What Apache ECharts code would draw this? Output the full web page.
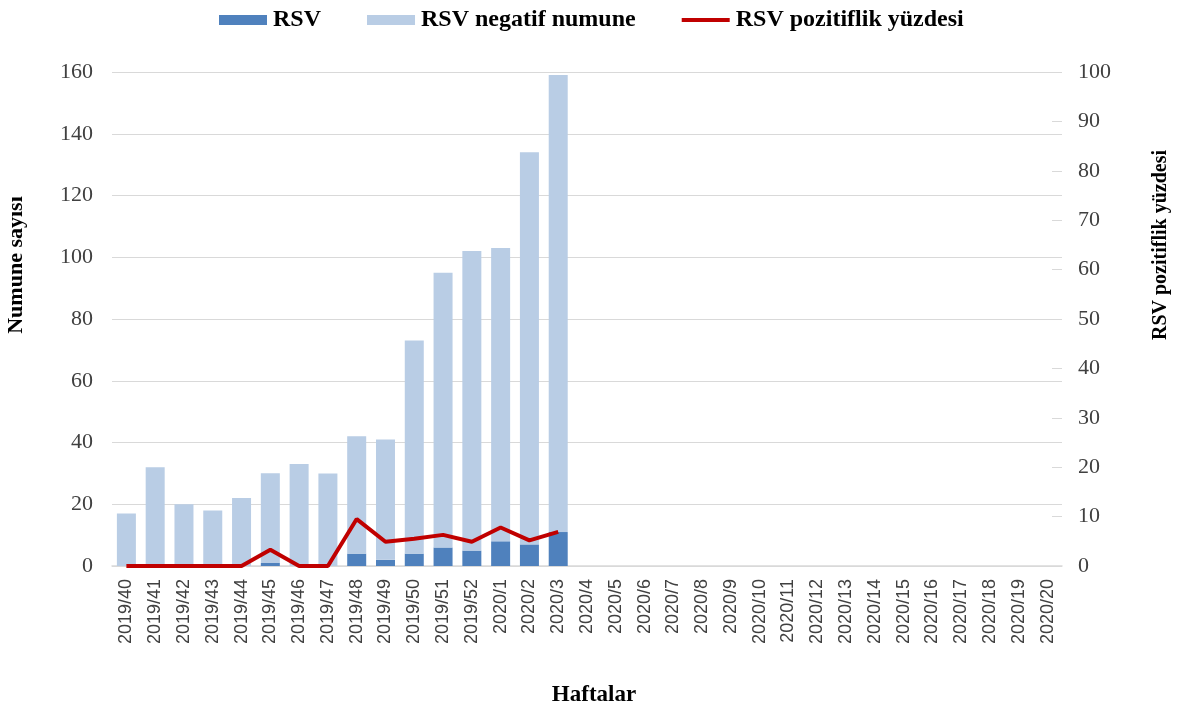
<!DOCTYPE html>
<html>
<head>
<meta charset="utf-8">
<script src="https://cdn.jsdelivr.net/npm/echarts@6/dist/echarts.min.js"></script>
<style>html,body{margin:0;padding:0;background:#fff}#c{width:1182px;height:708px}</style>
</head>
<body>
<div id="c"></div>
<script>
var weeks = ['2019/40','2019/41','2019/42','2019/43','2019/44','2019/45','2019/46','2019/47','2019/48','2019/49','2019/50','2019/51','2019/52',
  '2020/1','2020/2','2020/3','2020/4','2020/5','2020/6','2020/7','2020/8','2020/9','2020/10','2020/11','2020/12','2020/13','2020/14','2020/15','2020/16','2020/17','2020/18','2020/19','2020/20'];
var rsvPositive = [0,0,0,0,0,1,0,0,4,2,4,6,5,8,7,11];
var rsvNegative = [17,32,20,18,22,29,33,30,38,39,69,89,97,95,127,148];
var positivityPct = [0,0,0,0,0,3.3,0,0,9.5,4.9,5.5,6.3,4.9,7.8,5.2,6.9];
var leftTicks = [0,160,20];
var rightTicks = [0,100,10];

var serif = 'Liberation Serif';
var chart = echarts.init(document.getElementById('c'));
chart.setOption({
  animation: false,
  legend: {
    top: 3, left: 214,
    itemWidth: 48, itemHeight: 10, itemGap: 46,
    textStyle: {fontFamily: serif, fontWeight: 'bold', fontSize: 24, color: '#000', padding: [0,0,0,1]},
    data: [
      {name:'RSV', icon:'rect'},
      {name:'RSV negatif numune', icon:'rect'},
      {name:'RSV pozitiflik yüzdesi', icon:'path://M0,0 L48,0 L48,4 L0,4 Z', itemStyle: {color: '#c00000'}}
    ]
  },
  grid: {left: 112, right: 120, top: 72, bottom: 142},
  xAxis: {
    type: 'category', data: weeks,
    axisLine: {lineStyle: {color: '#d9d9d9', width: 1.5}},
    axisTick: {show: false},
    axisLabel: {rotate: 90, fontFamily: 'Liberation Sans', fontSize: 18, color: '#404040', interval: 0, margin: 13}
  },
  yAxis: [{
    type: 'value', min: leftTicks[0], max: leftTicks[1], interval: leftTicks[2],
    axisLine: {show: false}, axisTick: {show: false},
    splitLine: {lineStyle: {color: '#d9d9d9', width: 1}},
    axisLabel: {fontFamily: serif, fontSize: 22, color: '#404040', margin: 19}
  }, {
    type: 'value', min: rightTicks[0], max: rightTicks[1], interval: rightTicks[2],
    axisLine: {show: false},
    axisTick: {show: true, inside: true, length: 10, lineStyle: {color: '#d9d9d9'}},
    splitLine: {show: false},
    axisLabel: {fontFamily: serif, fontSize: 22, color: '#404040', margin: 16}
  }],
  graphic: [
    {type: 'text', rotation: Math.PI/2, x: 16, y: 265, style: {text: 'Numune sayısı', font: 'bold 22px "Liberation Serif"', fill: '#000', textAlign: 'center', textVerticalAlign: 'middle'}},
    {type: 'text', rotation: Math.PI/2, x: 1161, y: 245, style: {text: 'RSV pozitiflik yüzdesi', font: 'bold 20px "Liberation Serif"', fill: '#000', textAlign: 'center', textVerticalAlign: 'middle'}},
    {type: 'text', x: 594, y: 695, style: {text: 'Haftalar', font: 'bold 23px "Liberation Serif"', fill: '#000', textAlign: 'center', textVerticalAlign: 'middle'}}
  ],
  series: [{
    name: 'RSV', type: 'bar', stack: 'n', data: rsvPositive, barCategoryGap: '34%',
    itemStyle: {color: '#4f81bd'}
  }, {
    name: 'RSV negatif numune', type: 'bar', stack: 'n', data: rsvNegative,
    itemStyle: {color: '#b9cde5'}
  }, {
    name: 'RSV pozitiflik yüzdesi', type: 'line', yAxisIndex: 1, data: positivityPct,
    symbol: 'none', showSymbol: false,
    lineStyle: {color: '#c00000', width: 4}, itemStyle: {color: '#c00000'}
  }]
});
</script>
</body>
</html>
